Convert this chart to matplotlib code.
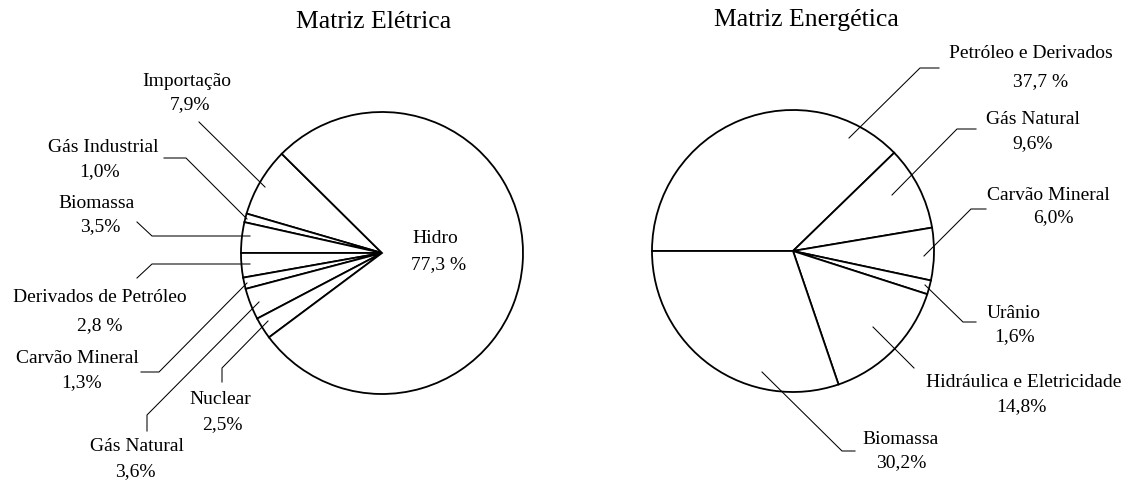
import matplotlib.pyplot as plt

plt.rcParams['font.family'] = ['Liberation Serif', 'DejaVu Serif']

W, H = 1128, 481  # canvas in pixels, everything below is laid out in px (y down)

# --- Matriz Elétrica (%) ---
eletrica_fontes = ["Importação", "Gás Industrial", "Biomassa", "Derivados de Petróleo",
                   "Carvão Mineral", "Gás Natural", "Nuclear", "Hidro"]
eletrica_pct = [7.9, 1.0, 3.5, 2.8, 1.3, 3.6, 2.5, 77.3]
eletrica_suf = ["%", "%", "%", " %", "%", "%", "%", " %"]

# --- Matriz Energética (%) ---
energetica_fontes = ["Petróleo e Derivados", "Gás Natural", "Carvão Mineral", "Urânio",
                     "Hidráulica e Eletricidade", "Biomassa"]
energetica_pct = [37.7, 9.6, 6.0, 1.6, 14.8, 30.2]
energetica_suf = [" %", "%", "%", "%", "%", "%"]

# posições dos rótulos (nome, valor) e linhas de chamada
el_nome_pos = [(187, 81), (103, 147), (97, 204), (100, 297), (77, 359), (137, 447), (220, 400), (435, 239)]
el_val_pos = [(190, 105), (100, 172), (100, 227), (100, 326), (82, 383), (135, 472), (222, 425), (439, 265)]
el_chamadas = [
    [(199, 123), (265, 188)],
    [(164, 159), (186, 159), (247, 220)],
    [(137, 223), (152, 237), (250, 237)],
    [(137, 279), (152, 265), (250, 265)],
    [(141, 373), (159, 373), (247, 284)],
    [(147, 432), (147, 416), (259, 303)],
    [(222, 383), (222, 369), (268, 322)],
    None,
]

en_nome_pos = [(1031, 53), (1033, 119), (1048, 195), (1014, 313), (1024, 383), (901, 440)]
en_val_pos = [(1041, 82), (1033, 144), (1053, 218), (1015, 337), (1021, 407), (901, 463)]
en_chamadas = [
    [(939, 69), (920, 69), (849, 139)],
    [(976, 130), (957, 130), (892, 196)],
    [(986, 210), (971, 210), (924, 257)],
    [(925, 286), (963, 323), (976, 323)],
    [(873, 328), (914, 369)],
    [(762, 373), (842, 452), (855, 452)],
]


def px(p):
    return p[0], H - p[1]


def fmt(v, suf):
    return f"{v:.1f}".replace(".", ",") + suf


fig = plt.figure(figsize=(W / 100, H / 100), dpi=100)
ax = fig.add_axes([0, 0, 1, 1])

wp = dict(facecolor="white", edgecolor="black", linewidth=1.3)
ax.pie(eletrica_pct, center=px((382, 254)), radius=141, startangle=135.3,
       counterclock=True, wedgeprops=wp)
ax.pie(energetica_pct, center=px((793, 252)), radius=141, startangle=180,
       counterclock=False, wedgeprops=wp)


def rotulos(fontes, pct, suf, nomes, vals, chamadas):
    for i, f in enumerate(fontes):
        x, y = px(nomes[i])
        ax.text(x, y, f, ha="center", va="center", fontsize=14)
        x, y = px(vals[i])
        ax.text(x, y, fmt(pct[i], suf[i]), ha="center", va="center", fontsize=14)
        if chamadas[i]:
            pts = [px(p) for p in chamadas[i]]
            ax.plot([p[0] for p in pts], [p[1] for p in pts], c="black", lw=0.75)


rotulos(eletrica_fontes, eletrica_pct, eletrica_suf, el_nome_pos, el_val_pos, el_chamadas)
rotulos(energetica_fontes, energetica_pct, energetica_suf, en_nome_pos, en_val_pos, en_chamadas)

ax.text(*px((374, 22)), "Matriz Elétrica", ha="center", va="center", fontsize=18.5)
ax.text(*px((806, 20)), "Matriz Energética", ha="center", va="center", fontsize=18.5)

ax.set_xlim(0, W)
ax.set_ylim(0, H)
ax.set_aspect("equal")
ax.axis("off")
fig.savefig("out.png", dpi=100)
